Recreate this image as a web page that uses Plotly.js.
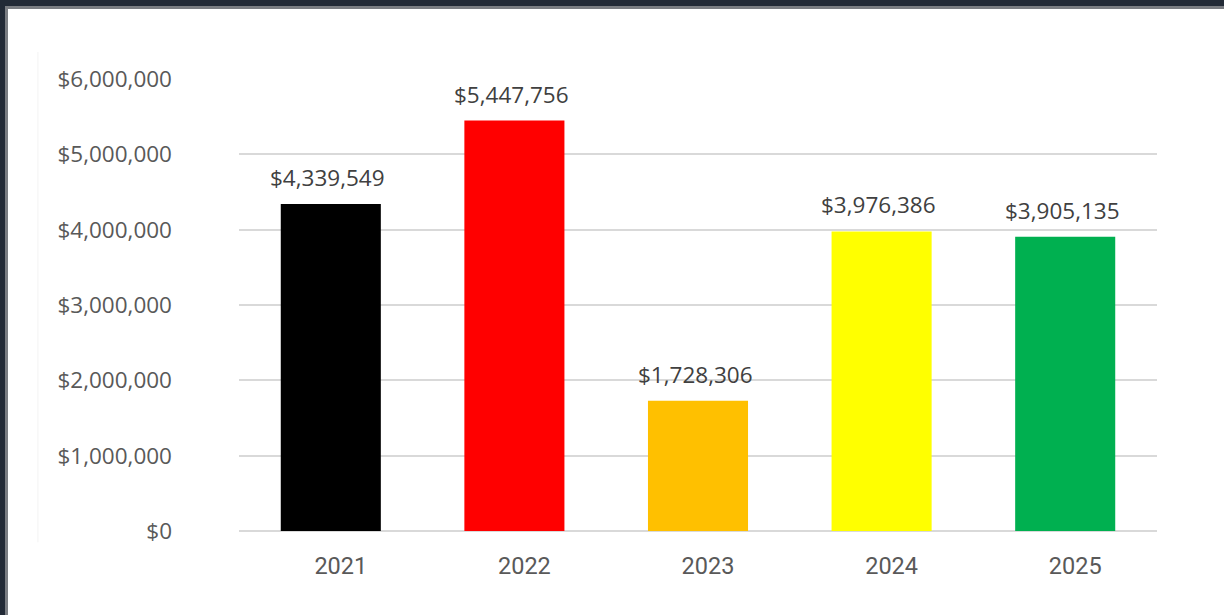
<!DOCTYPE html>
<html>
<head>
<meta charset="utf-8">
<script src="https://cdn.plot.ly/plotly-3.0.1.min.js"></script>
<style>
  html, body { margin:0; padding:0; width:1224px; height:615px; overflow:hidden; background:#222a36; }
  #frame { position:absolute; left:5px; top:6px; width:1219px; height:609px; background:#7a7d82; }
  #chart { position:absolute; left:8px; top:9px; width:1216px; height:606px; background:#ffffff; }
</style>
</head>
<body>
<div id="frame"></div>
<div id="chart"></div>
<script>
const years = ["2021", "2022", "2023", "2024", "2025"];
const totals = [4339549, 5447756, 1728306, 3976386, 3905135];
const barColors = ["#000000", "#ff0000", "#ffc000", "#ffff00", "#00b050"];
const yTickVals = [0, 1000000, 2000000, 3000000, 4000000, 5000000, 6000000];

const fmt = v => "$" + v.toLocaleString("en-US");
const FONT = "Open Sans, sans-serif";
const FS = 22.5;

const trace = {
  type: "bar",
  x: years,
  y: totals,
  marker: { color: barColors },
  hoverinfo: "none"
};

const annotations = years.map((yr, i) => ({
  x: i, y: totals[i], xref: "x", yref: "y",
  text: fmt(totals[i]), showarrow: false,
  yanchor: "bottom", yshift: 9, xshift: -3,
  font: { family: FONT, size: FS, color: "#404040" }
}));

const layout = {
  width: 1216, height: 606,
  margin: { l: 231, r: 67, t: 70, b: 84 },
  paper_bgcolor: "#ffffff",
  plot_bgcolor: "#ffffff",
  bargap: 0.455,
  showlegend: false,
  xaxis: {
    type: "category",
    range: [-0.5, years.length - 0.5],
    showgrid: false,
    showline: false,
    zeroline: false,
    ticks: "",
    ticklabelstandoff: 18,
    ticklabelshift: 10,
    tickfont: { family: "Roboto, sans-serif", size: 23.5, color: "#595959" }
  },
  yaxis: {
    range: [0, 6000000],
    tickvals: yTickVals,
    ticktext: yTickVals.map(fmt),
    showgrid: true,
    gridcolor: "#d9d9d9",
    gridwidth: 2,
    zeroline: true,
    zerolinecolor: "#d9d9d9",
    zerolinewidth: 2,
    showline: false,
    ticks: "",
    ticklabelstandoff: 66,
    tickfont: { family: FONT, size: FS, color: "#595959" }
  },
  annotations: annotations,
  shapes: [{
    type: "line", xref: "paper", yref: "paper",
    x0: -0.219, x1: -0.219, y0: -0.025, y1: 1.06,
    line: { color: "#f3f3f3", width: 1 }
  }]
};

Plotly.newPlot("chart", [trace], layout, { displayModeBar: false, staticPlot: true });
</script>
</body>
</html>
